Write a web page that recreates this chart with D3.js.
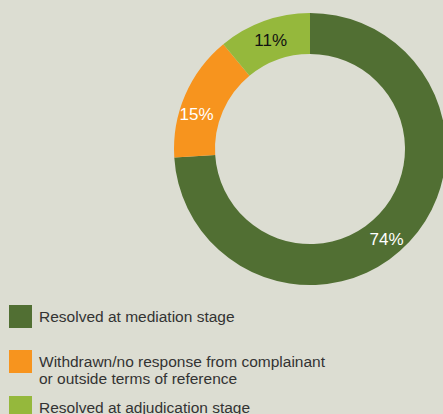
<!DOCTYPE html>
<html>
<head>
<meta charset="utf-8">
<script src="https://cdn.jsdelivr.net/npm/d3@7"></script>
<style>
  html, body { margin: 0; padding: 0; background: #dcddd2; overflow: hidden; }
  svg { display: block; font-family: "Liberation Sans", Arial, sans-serif; }
</style>
</head>
<body>
<svg id="chart" width="443" height="414"></svg>
<script>
// chart data
const categories = ["Resolved at mediation stage", "Withdrawn/no response from complainant or outside terms of reference", "Resolved at adjudication stage"];
const legendLines = [["Resolved at mediation stage"], ["Withdrawn/no response from complainant", "or outside terms of reference"], ["Resolved at adjudication stage"]];
const values = [74, 15, 11];
const colors = ["#516f33", "#f7941e", "#95b83c"];
const labelColors = ["#ffffff", "#ffffff", "#111111"];

const svg = d3.select("#chart");

const cx = 310, cy = 149;
const outerR = 136, innerR = 95;

const pie = d3.pie().sort(null).value(d => d)(values);
const arc = d3.arc().innerRadius(innerR).outerRadius(outerR);
const labelArc = d3.arc().innerRadius(outerR - 20).outerRadius(outerR - 20);

// small hand nudges so labels sit like the original
const labelNudge = [[-8, 10], [-7, 11], [0, 0]];

const donut = svg.append("g").attr("transform", `translate(${cx},${cy})`);

donut.selectAll("path")
    .data(pie)
    .join("path")
    .attr("d", arc)
    .attr("fill", (d, i) => colors[i]);

donut.selectAll("text")
    .data(pie)
    .join("text")
    .attr("transform", (d, i) => {
        const [x, y] = labelArc.centroid(d);
        return `translate(${x + labelNudge[i][0]},${y + labelNudge[i][1]})`;
    })
    .attr("text-anchor", "middle")
    .attr("dy", "0.36em")
    .attr("font-size", 17)
    .attr("fill", (d, i) => labelColors[i])
    .text(d => d.data + "%");

// legend
const legend = svg.append("g").attr("transform", "translate(9,305)");
const rowY = [0, 45, 91];

const rows = legend.selectAll("g")
    .data(categories)
    .join("g")
    .attr("transform", (d, i) => `translate(0,${rowY[i]})`);

rows.append("rect")
    .attr("width", 23)
    .attr("height", 23)
    .attr("fill", (d, i) => colors[i]);

rows.append("text")
    .attr("x", 30)
    .attr("y", 17)
    .attr("font-size", 15.5)
    .attr("fill", "#333333")
    .selectAll("tspan")
    .data((d, i) => legendLines[i])
    .join("tspan")
    .attr("x", 30)
    .attr("dy", (d, j) => j === 0 ? 0 : 17)
    .text(d => d);
</script>
</body>
</html>
